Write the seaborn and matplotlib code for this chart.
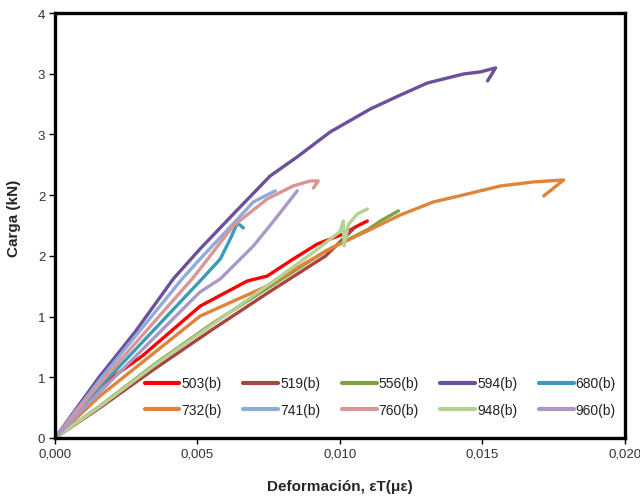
import matplotlib
matplotlib.use("Agg")
import matplotlib.pyplot as plt
import seaborn as sns
import pandas as pd

# Load–strain curves per specimen (strain, load in kN)
s503_x = [0, 0.00158, 0.00306, 0.0051, 0.00675, 0.00745, 0.00836, 0.00921, 0.01012, 0.01061, 0.01096]
s503_y = [0, 0.428, 0.675, 1.087, 1.293, 1.334, 1.474, 1.598, 1.680, 1.746, 1.787]

s519_x = [0, 0.00158, 0.0035, 0.00555, 0.0075, 0.0095, 0.01047]
s519_y = [0, 0.25, 0.57, 0.898, 1.20, 1.50, 1.722]

s556_x = [0, 0.00158, 0.00351, 0.0055, 0.00703, 0.0095, 0.0110, 0.01142, 0.01205]
s556_y = [0, 0.264, 0.61, 0.94, 1.17, 1.54, 1.72, 1.787, 1.87]

s594_x = [0, 0.00158, 0.00281, 0.00415, 0.00509, 0.00643, 0.00755, 0.0085, 0.00966, 0.01107, 0.01205, 0.01307, 0.01434, 0.01493, 0.01546, 0.01518]
s594_y = [0, 0.511, 0.873, 1.310, 1.557, 1.886, 2.158, 2.315, 2.521, 2.710, 2.817, 2.924, 2.998, 3.015, 3.048, 2.941]

s680_x = [0, 0.00158, 0.00516, 0.0058, 0.00615, 0.0064, 0.00661]
s680_y = [0, 0.42, 1.310, 1.474, 1.639, 1.771, 1.730]

s732_x = [0, 0.00158, 0.0051, 0.00745, 0.00861, 0.00977, 0.01096, 0.01212, 0.01328, 0.01448, 0.01564, 0.0168, 0.01785, 0.01715]
s732_y = [0, 0.346, 1.005, 1.252, 1.417, 1.573, 1.705, 1.837, 1.944, 2.010, 2.076, 2.109, 2.125, 1.993]

s741_x = [0, 0.00158, 0.00446, 0.00509, 0.00625, 0.00696, 0.00773]
s741_y = [0, 0.48, 1.310, 1.474, 1.763, 1.944, 2.035]

s760_x = [0, 0.00158, 0.00481, 0.00509, 0.00625, 0.00745, 0.00836, 0.00896, 0.00924, 0.00907]
s760_y = [0, 0.45, 1.310, 1.392, 1.746, 1.969, 2.076, 2.117, 2.117, 2.059]

s948_x = [0, 0.00158, 0.0035, 0.00604, 0.00766, 0.00907, 0.0100, 0.01012, 0.01014, 0.0103, 0.01061, 0.01096]
s948_y = [0, 0.26, 0.60, 1.02, 1.29, 1.53, 1.70, 1.787, 1.582, 1.76, 1.845, 1.886]

s960_x = [0, 0.00158, 0.00509, 0.0058, 0.00696, 0.00773, 0.0085]
s960_y = [0, 0.38, 1.203, 1.31, 1.581, 1.804, 2.035]

labels = ["503(b)", "519(b)", "556(b)", "594(b)", "680(b)",
          "732(b)", "741(b)", "760(b)", "948(b)", "960(b)"]
xs = [s503_x, s519_x, s556_x, s594_x, s680_x, s732_x, s741_x, s760_x, s948_x, s960_x]
ys = [s503_y, s519_y, s556_y, s594_y, s680_y, s732_y, s741_y, s760_y, s948_y, s960_y]
colors = ["#FF0000", "#A8453F", "#7FA146", "#6B509A", "#3B9CB8",
          "#E0843B", "#8FAADC", "#D99694", "#B5D194", "#A899C6"]

x_ticks = [0.000, 0.005, 0.010, 0.015, 0.020]
x_ticklabels = ["0,000", "0,005", "0,010", "0,015", "0,020"]
y_ticks = [0, 0.5, 1.0, 1.5, 2.0, 2.5, 3.0, 3.5]
y_ticklabels = ["0", "1", "1", "2", "2", "3", "3", "4"]

rows = []
for lab, xv, yv in zip(labels, xs, ys):
    for i, (a, b) in enumerate(zip(xv, yv)):
        rows.append({"muestra": lab, "orden": i, "def": a, "carga": b})
df = pd.DataFrame(rows)

sns.set_theme(style="white")
plt.rcParams["font.family"] = ["Liberation Sans", "DejaVu Sans"]

fig = plt.figure(figsize=(6.4, 5.02), dpi=100)
ax = fig.add_axes([0.0859, 0.1255, 0.8906, 0.8466])

sns.lineplot(data=df, x="def", y="carga", hue="muestra", hue_order=labels,
             palette=dict(zip(labels, colors)), units="muestra", estimator=None,
             sort=False, linewidth=2.4, ax=ax, legend=False)

ax.set_xlim(0, 0.020)
ax.set_ylim(0, 3.5)
ax.set_xticks(x_ticks)
ax.set_xticklabels(x_ticklabels)
ax.set_yticks(y_ticks)
ax.set_yticklabels(y_ticklabels)
ax.tick_params(axis="both", which="both", direction="out", length=4, width=1,
               color="#000000", labelsize=9.5, labelcolor="#333333", pad=3,
               bottom=True, left=True)
for sp in ax.spines.values():
    sp.set_visible(True)
    sp.set_color("black")
    sp.set_linewidth(2.4)

ax.set_xlabel("Deformación, εT(με)", fontsize=11, fontweight="bold", labelpad=14)
ax.set_ylabel("Carga (kN)", fontsize=11, fontweight="bold", labelpad=7)
ax.yaxis.set_label_coords(-0.06, 0.52)

# legend laid out in two rows of five
handles = [plt.Line2D([], [], color=c, lw=3) for c in colors]
order = [0, 5, 1, 6, 2, 7, 3, 8, 4, 9]
ax.legend([handles[i] for i in order], [labels[i] for i in order], ncol=5,
          loc="lower right", bbox_to_anchor=(1.006, 0.02), frameon=False,
          fontsize=10, handlelength=2.5, handletextpad=0.15, columnspacing=1.55,
          labelspacing=0.9, labelcolor="#222222")

fig.savefig("out.png", dpi=100)
